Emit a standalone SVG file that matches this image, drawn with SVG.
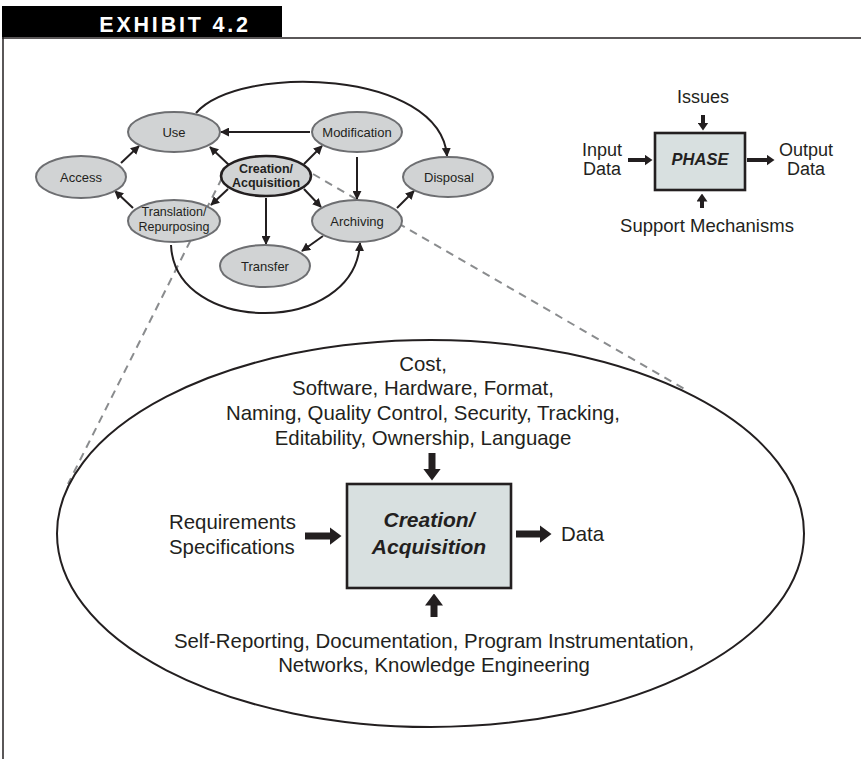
<svg xmlns="http://www.w3.org/2000/svg" width="861" height="759" viewBox="0 0 861 759">
<style>
  .node ellipse { fill:#d1d3d4; stroke:#6d6e71; stroke-width:2; }
  .node.main ellipse { stroke:#231f20; stroke-width:2.6; }
  .lbl { font-family:"Liberation Sans", Arial, sans-serif; font-size:13px; fill:#231f20; text-anchor:middle; }
  .lbl2 { font-family:"Liberation Sans", Arial, sans-serif; font-size:12.5px; fill:#231f20; text-anchor:middle; }
  .lblb { font-family:"Liberation Sans", Arial, sans-serif; font-size:12.5px; font-weight:bold; fill:#231f20; text-anchor:middle; }
  .edge { fill:none; stroke:#231f20; stroke-width:2; marker-end:url(#ah); }
  .dash { fill:none; stroke:#8a8c8e; stroke-width:2; stroke-dasharray:8 6; }
  .txt { font-family:"Liberation Sans", Arial, sans-serif; fill:#231f20; }
  .box { fill:#d8e0e0; stroke:#231f20; stroke-width:2.6; }
  .blk { stroke:#231f20; fill:none; }
</style>
<defs>
  <marker id="ah" viewBox="0 0 10 10" refX="9" refY="5" markerWidth="9" markerHeight="9" markerUnits="userSpaceOnUse" orient="auto">
    <path d="M0,0 L10,5 L0,10 z" fill="#231f20"/>
  </marker>
  <marker id="bigh" viewBox="0 0 12 18" refX="0.5" refY="9" markerWidth="12" markerHeight="18" markerUnits="userSpaceOnUse" orient="auto">
    <path d="M0,0 L12,9 L0,18 z" fill="#231f20"/>
  </marker>
  <marker id="smh" viewBox="0 0 8 11" refX="0.5" refY="5.5" markerWidth="8" markerHeight="11" markerUnits="userSpaceOnUse" orient="auto">
    <path d="M0,0 L8,5.5 L0,11 z" fill="#231f20"/>
  </marker>
</defs>

<g id="frame">
  <rect x="2" y="6" width="280" height="31" fill="#000"/>
  <text x="175" y="31.5" font-family="Liberation Sans, Arial, sans-serif" font-size="21.5" font-weight="bold" fill="#fff" text-anchor="middle" letter-spacing="2.8">EXHIBIT 4.2</text>
  <line x1="2" y1="38" x2="861" y2="38" stroke="#231f20" stroke-width="1.5"/>
  <line x1="3" y1="37" x2="3" y2="759" stroke="#231f20" stroke-width="1.5"/>
</g>

<g id="zoom-lines">
  <line class="dash" x1="222" y1="178" x2="68" y2="484"/>
  <line class="dash" x1="313" y1="174" x2="688" y2="391"/>
</g>

<g id="connectors">
  <path class="edge" d="M310,132 L221,132"/>
  <path class="edge" d="M229,165 L210,147"/>
  <path class="edge" d="M304,164 L322,146"/>
  <path class="edge" d="M228,189 L211,205"/>
  <path class="edge" d="M304,189 L321,207"/>
  <path class="edge" d="M266,198 L266,244"/>
  <path class="edge" d="M357,157 L357,199"/>
  <path class="edge" d="M121,163 L139,146"/>
  <path class="edge" d="M133,208 L115,191"/>
  <path class="edge" d="M323,236 L302,251"/>
  <path class="edge" d="M397,208 L414,191"/>
  <path class="edge" d="M196,113 C240,63 440,70 447,156"/>
  <path class="edge" d="M171,245 C175,336 355,336 360,243"/>
</g>

<g id="use" class="node"><ellipse cx="174" cy="132" rx="46" ry="20"/><text class="lbl" x="174" y="137">Use</text></g>
<g id="modification" class="node"><ellipse cx="357" cy="132" rx="45" ry="20"/><text class="lbl" x="357" y="137">Modification</text></g>
<g id="access" class="node"><ellipse cx="81" cy="177" rx="45" ry="21"/><text class="lbl" x="81" y="182">Access</text></g>
<g id="creation" class="node main"><ellipse cx="266" cy="176" rx="45" ry="20"/><text class="lblb" x="266" y="172.5">Creation/</text><text class="lblb" x="266" y="187">Acquisition</text></g>
<g id="disposal" class="node"><ellipse cx="448" cy="177" rx="45" ry="20"/><text class="lbl" x="449" y="182">Disposal</text></g>
<g id="translation" class="node"><ellipse cx="174" cy="221" rx="46" ry="21"/><text class="lbl2" x="174" y="216">Translation/</text><text class="lbl2" x="174" y="230.5">Repurposing</text></g>
<g id="archiving" class="node"><ellipse cx="357" cy="221" rx="45" ry="21"/><text class="lbl" x="357" y="226">Archiving</text></g>
<g id="transfer" class="node"><ellipse cx="265" cy="266" rx="45" ry="21"/><text class="lbl" x="265" y="271">Transfer</text></g>

<g id="legend">
  <rect class="box" x="655" y="133" width="90" height="57"/>
  <text class="txt" x="700" y="165" font-size="16.5" font-weight="bold" font-style="italic" text-anchor="middle">PHASE</text>
  <text class="txt" x="703" y="103" font-size="18" text-anchor="middle">Issues</text>
  <text class="txt" x="602" y="156" font-size="18" text-anchor="middle">Input</text>
  <text class="txt" x="602" y="175" font-size="18" text-anchor="middle">Data</text>
  <text class="txt" x="806" y="156" font-size="18" text-anchor="middle">Output</text>
  <text class="txt" x="806" y="175" font-size="18" text-anchor="middle">Data</text>
  <text class="txt" x="707" y="232" font-size="18.5" text-anchor="middle">Support Mechanisms</text>
  <line class="blk" x1="703" y1="115" x2="703" y2="123" stroke-width="4" marker-end="url(#smh)"/>
  <line class="blk" x1="702" y1="208" x2="702" y2="201" stroke-width="4" marker-end="url(#smh)"/>
  <line class="blk" x1="628" y1="160" x2="645" y2="160" stroke-width="4" marker-end="url(#smh)"/>
  <line class="blk" x1="747" y1="160" x2="767" y2="160" stroke-width="4" marker-end="url(#smh)"/>
</g>

<g id="detail">
  <ellipse cx="430.5" cy="533.5" rx="373.5" ry="193.5" fill="none" stroke="#231f20" stroke-width="2"/>
  <rect class="box" x="347" y="484" width="164" height="104"/>
  <text class="txt" x="429" y="527" font-size="21" font-weight="bold" font-style="italic" text-anchor="middle">Creation/</text>
  <text class="txt" x="429" y="554" font-size="21" font-weight="bold" font-style="italic" text-anchor="middle">Acquisition</text>
  <g font-size="20.4" text-anchor="middle" class="txt">
    <text x="423" y="371">Cost,</text>
    <text x="423" y="395">Software, Hardware, Format,</text>
    <text x="423" y="420">Naming, Quality Control, Security, Tracking,</text>
    <text x="423" y="445">Editability, Ownership, Language</text>
    <text x="434" y="648">Self-Reporting, Documentation, Program Instrumentation,</text>
    <text x="434" y="672">Networks, Knowledge Engineering</text>
  </g>
  <text class="txt" x="169" y="529" font-size="20.4">Requirements</text>
  <text class="txt" x="169" y="554" font-size="20.4">Specifications</text>
  <text class="txt" x="561" y="541" font-size="20.4">Data</text>
  <line class="blk" x1="432" y1="453" x2="432" y2="469" stroke-width="7" marker-end="url(#bigh)"/>
  <line class="blk" x1="434" y1="617" x2="434" y2="605" stroke-width="7" marker-end="url(#bigh)"/>
  <line class="blk" x1="305" y1="536" x2="330" y2="536" stroke-width="7" marker-end="url(#bigh)"/>
  <line class="blk" x1="516" y1="534" x2="540" y2="534" stroke-width="7" marker-end="url(#bigh)"/>
</g>
</svg>
